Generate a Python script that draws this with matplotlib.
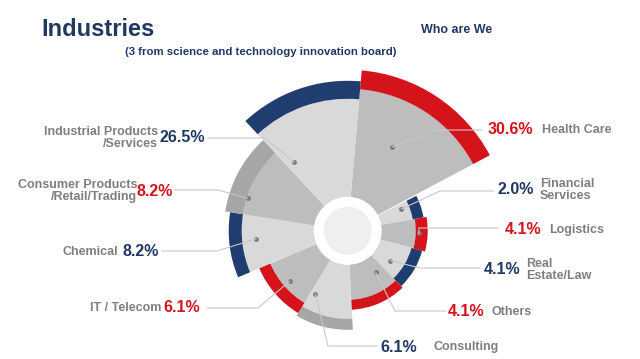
import numpy as np
import matplotlib
matplotlib.use("Agg")
import matplotlib.pyplot as plt

plt.rcParams["font.family"] = ["Liberation Sans", "DejaVu Sans"]

# data, clockwise from 12 o'clock
names = ["Health Care", "Financial\nServices", "Logistics", "Real\nEstate/Law", "Others",
         "Consulting", "IT / Telecom", "Chemical", "Consumer Products\n/Retail/Trading",
         "Industrial Products\n/Services"]
shares = [30.6, 2.0, 4.1, 4.1, 4.1, 6.1, 6.1, 8.2, 8.2, 26.5]
theta_start = [5, 63, 80, 105, 136, 177, 211, 247, 279, 317]
theta_end = [62, 80, 105, 136, 177, 211, 247, 279, 317, 365]
inner_r = [142, 66, 68, 66, 69, 88, 84, 106, 106, 132]
outer_r = [161, 77, 80, 77, 79, 99, 96, 119, 124, 150]
dot_theta = [28, 68, 92, 125, 146, 207, 229, 265, 288, 322]
dot_r = [95, 58, 71, 52, 50, 71, 77, 92, 105, 87]

NAVY = "#1f3864"
RED = "#d5131b"
BLUE = "#1f3d6e"
GREY_T = "#7f7f7f"
wedge_col = ["#bdbdbd", "#d9d9d9"] * 5
band_col = [RED, BLUE, RED, BLUE, RED, "#a6a6a6", RED, BLUE, "#a6a6a6", BLUE]
pct_col = [RED, NAVY, RED, NAVY, RED, NAVY, RED, NAVY, RED, NAVY]

# label layout: elbow point, line end, pct x, name x, text y, side
elbow = [(436, 130), (440, 191), (419, 228), (420, 268), (395, 311),
         (328, 346), (258, 308), (217, 251), (218, 190), (265, 138)]
line_end = [482, 493, 498, 480, 446, 377, 207, 162, 175, 208]
pct_x = [488, 498, 505, 484, 448, 380, 200, 159, 173, 205]
name_x = [542, 540, 549, 526, 492, 433, 161, 118, 137, 158]
text_y = [130, 190, 230, 270, 312, 347, 308, 252, 191, 138]
side = ["R"] * 6 + ["L"] * 4

W, H = 640, 359
cx, cy, R = 347.7, 230.8, 180

fig = plt.figure(figsize=(6.4, 3.59), dpi=100)
fig.patch.set_facecolor("white")

pax = fig.add_axes([(cx - R) / W, (H - cy - R) / H, 2 * R / W, 2 * R / H], projection="polar")
pax.set_theta_zero_location("N")
pax.set_theta_direction(-1)
pax.set_ylim(0, R)
pax.axis("off")

ts = np.radians(theta_start)
te = np.radians(theta_end)
mid = (ts + te) / 2
span = te - ts
ri = np.array(inner_r)
ro = np.array(outer_r)
pax.bar(mid, ri, width=span, bottom=0, color=wedge_col, linewidth=0, align="center")
pax.bar(mid, ro - ri, width=span, bottom=ri, color=band_col, linewidth=0, align="center")
pax.bar(0, 34, width=2 * np.pi, bottom=0, color="white", linewidth=0)
pax.bar(0, 24, width=2 * np.pi, bottom=0, color="#efefef", linewidth=0)
pax.scatter(np.radians(dot_theta), dot_r, s=6, color="#7a7a7a", zorder=5)

lay = fig.add_axes([0, 0, 1, 1])
lay.set_xlim(0, W)
lay.set_ylim(H, 0)
lay.axis("off")

for i in range(len(names)):
    a = np.radians(dot_theta[i])
    dx = cx + dot_r[i] * np.sin(a)
    dy = cy - dot_r[i] * np.cos(a)
    ex, ey = elbow[i]
    lay.plot([dx, ex, line_end[i]], [dy, ey, ey], color="#c8c8c8", lw=0.8)
    pct = f"{shares[i]:.1f}%"
    ha = "left" if side[i] == "R" else "right"
    lay.text(pct_x[i], text_y[i], pct, ha=ha, va="center", fontsize=11.5,
             fontweight="bold", color=pct_col[i])
    lay.text(name_x[i], text_y[i], names[i], ha=ha, va="center", fontsize=9,
             fontweight="bold", color=GREY_T, linespacing=1.1)

lay.text(41, 30, "Industries", ha="left", va="center", fontsize=17, fontweight="bold", color=NAVY)
lay.text(492, 30, "Who are We", ha="right", va="center", fontsize=9, fontweight="bold", color=NAVY)
lay.text(261, 52, "(3 from science and technology innovation board)", ha="center", va="center",
         fontsize=8.2, fontweight="bold", color=NAVY)

fig.savefig("out.png", dpi=100, facecolor="white")
